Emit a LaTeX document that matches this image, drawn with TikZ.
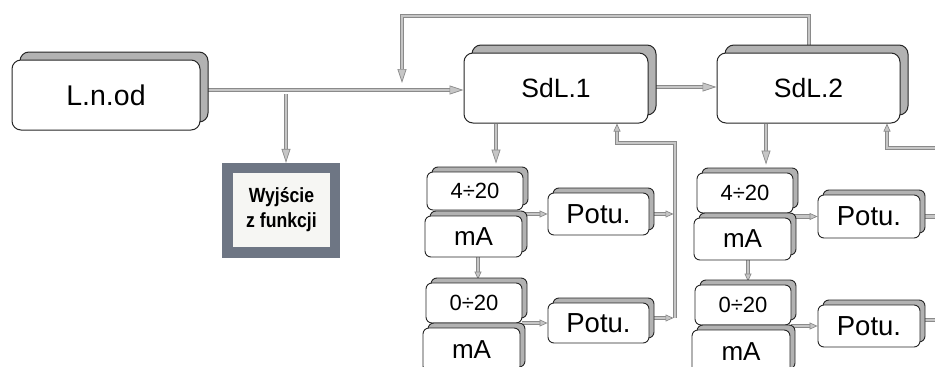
\documentclass[tikz,border=0pt]{standalone}
\usepackage{fontspec}
\setmainfont{Liberation Sans}
\newfontfamily\narrowbold[FakeStretch=0.86]{Liberation Sans Bold}
\usetikzlibrary{arrows.meta,shadows}
\definecolor{pipeout}{HTML}{8A8A8A}
\definecolor{pipein}{HTML}{C6C6C6}
\definecolor{shad}{HTML}{B2B2B2}
\definecolor{framec}{HTML}{6E7684}
\definecolor{paper}{HTML}{F6F6F3}
\newcommand\fsz[1]{\fontsize{#1}{#1}\selectfont}
\pgfdeclarelayer{background}
\pgfsetlayers{background,main}
\tikzset{
  bigbox/.style={draw=black!85, line width=1pt, fill=white, rounded corners=9pt, inner sep=0pt,
    copy shadow={shadow xshift=8pt, shadow yshift=8pt, fill=shad, draw=black!85, line width=1pt}},
  smallbox/.style={draw=black!85, line width=0.9pt, fill=white, rounded corners=6pt, inner sep=0pt,
    copy shadow={shadow xshift=5pt, shadow yshift=5pt, fill=shad, draw=black!85, line width=0.9pt}},
  numtxt/.style={font=\fsz{22}},
  unittxt/.style={font=\fsz{26}},
  pottxt/.style={font=\fsz{27.5}},
  pipe/.style={draw=pipeout, line width=0.7pt, double=pipein, double distance=2.8pt},
  parr/.style={pipe, -{Triangle[length=14pt,width=9pt,fill=pipein]}},
  sarr/.style={pipe, -{Triangle[length=8pt,width=7pt,fill=pipein]}}
}
\begin{document}
\begin{tikzpicture}[x=1pt,y=-1pt]
\useasboundingbox (0,0) rectangle (935,367);
\clip (0,0) rectangle (935,367);

% main boxes
\node[bigbox, font=\fsz{28.5}, minimum width=188pt, minimum height=70pt] (Lnod) at (106,95) {L.n.od};
\node[bigbox, font=\fsz{26.5}, minimum width=184pt, minimum height=70pt] (SdL1) at (556,88) {SdL.1};
\node[bigbox, font=\fsz{26.5}, minimum width=183pt, minimum height=70pt] (SdL2) at (808.5,88) {SdL.2};

% output box
\node[fill=framec, minimum width=118pt, minimum height=95pt, inner sep=0pt] (Wyj) at (281,210.5) {};
\node[fill=paper, minimum width=97pt, minimum height=74pt, inner sep=0pt, align=center,
      font=\narrowbold\fontsize{20.5}{25}\selectfont] (WyjT) at (281.5,210)
      {Wyjście\\z funkcji};

% left column
\node[smallbox, numtxt, minimum width=96pt, minimum height=38pt] (A1) at (475,191) {4÷20};
\node[smallbox, unittxt, minimum width=97pt, minimum height=41pt] (B1) at (473.5,236.5) {mA};
\node[smallbox, numtxt, minimum width=96pt, minimum height=40pt] (C1) at (474,303) {0÷20};
\node[smallbox, unittxt, minimum width=97pt, minimum height=44pt] (D1) at (471.5,350) {mA};
\node[smallbox, pottxt, minimum width=101pt, minimum height=42pt] (P1) at (598.5,214) {Potu.};
\node[smallbox, pottxt, minimum width=101pt, minimum height=40pt] (Q1) at (598.5,323) {Potu.};

% right column
\node[smallbox, numtxt, minimum width=96pt, minimum height=40pt] (A2) at (745,193) {4÷20};
\node[smallbox, unittxt, minimum width=97pt, minimum height=42pt] (B2) at (742.5,239) {mA};
\node[smallbox, numtxt, minimum width=96pt, minimum height=40pt] (C2) at (743,305) {0÷20};
\node[smallbox, unittxt, minimum width=98pt, minimum height=44pt] (D2) at (741,352) {mA};
\node[smallbox, pottxt, minimum width=102pt, minimum height=43pt] (P2) at (869,216.5) {Potu.};
\node[smallbox, pottxt, minimum width=102pt, minimum height=42pt] (Q2) at (869,326) {Potu.};

% helper coordinates
\coordinate (j0) at (402,90);
\coordinate (j1) at (286,94);
\coordinate (t1) at (402,16);
\coordinate (fb) at (402,83);
\coordinate (bus1) at (675,143);
\coordinate (q1o) at (655,318);
\coordinate (bus2) at (887,148);
\coordinate (q2o) at (925,320);
\coordinate (edge) at (945,0);

\begin{pgfonlayer}{background}
  \draw[parr] (Lnod.east |- j0) -- (SdL1.west |- j0);
  \draw[parr] (j1) -- (j1 |- Wyj.north);
  \draw[parr] (SdL2.north -| 809,0) |- (t1) -- (fb);
  \draw[parr] ([yshift=1pt]SdL1.east) -- ([yshift=1pt]SdL2.west);
  % left column
  \draw[parr, shorten >=8pt] (SdL1.south -| 496,0) -- (A1.north -| 496,0);
  \draw[sarr, shorten >=3pt] (B1.south -| 478,0) -- (C1.north -| 478,0);
  \draw[sarr] (P1.west -| A1.east) -- (P1.west);
  \draw[sarr] (Q1.west -| C1.east) -- (Q1.west);
  \draw[sarr] (q1o -| bus1) -- (bus1) -| (SdL1.south -| 617,0);
  \draw[sarr, shorten >=1.5pt] (P1.east) -- (P1.east -| bus1);
  \draw[sarr, shorten >=1.5pt] (q1o -| Q1.east) -- (q1o -| bus1);
  % right column
  \draw[parr, shorten >=8pt] (SdL2.south -| 766,0) -- (A2.north -| 766,0);
  \draw[sarr, shorten >=3pt] (B2.south -| 748,0) -- (C2.north -| 748,0);
  \draw[sarr] (P2.west -| A2.east) -- (P2.west);
  \draw[sarr] (Q2.west -| C2.east) -- (Q2.west);
  \draw[pipe] (P2.east) -- (P2.east -| edge);
  \draw[pipe] (q2o -| Q2.east) -- (q2o -| edge);
  \draw[sarr] (bus2 -| edge) -- (bus2) -- (SdL2.south -| bus2);
\end{pgfonlayer}
\end{tikzpicture}
\end{document}
